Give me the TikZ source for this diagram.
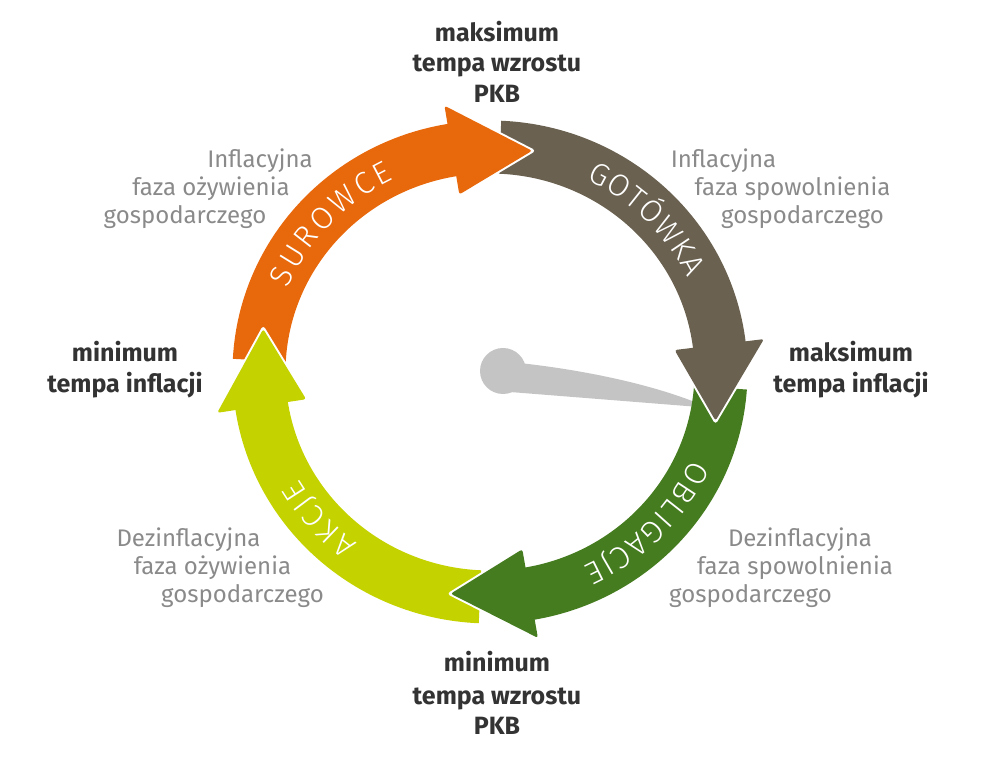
\documentclass[tikz,border=0pt]{standalone}
\usepackage{fontspec}
\setmainfont{Fira Sans}
\newfontfamily\lightfont{Fira Sans Light}
\usetikzlibrary{decorations.text}
\definecolor{cOrange}{RGB}{232,104,12}
\definecolor{cGray}{RGB}{106,97,80}
\definecolor{cGreen}{RGB}{70,124,32}
\definecolor{cLime}{RGB}{196,211,0}
\definecolor{cNeedle}{RGB}{196,196,196}
\definecolor{cDark}{RGB}{51,51,51}
\definecolor{cLabel}{RGB}{138,138,138}
\begin{document}
\begin{tikzpicture}[x=1pt,y=1pt,
  bold/.style={font=\fontsize{25}{30}\selectfont\bfseries, text=cDark, inner sep=0pt, anchor=base},
  phase/.style={font=\fontsize{24}{28}\selectfont, text=cLabel, inner sep=0pt, anchor=base},
  ringtext/.style={decorate, decoration={text along path, text align={fit to path}, text color=white, text={|\lightfont\fontsize{31}{31}\selectfont|#1}}}
]
\useasboundingbox (0,0) rectangle (983,763);
\begin{scope}[shift={(490,391)}]
  % needle
  \fill[cNeedle] (13,1) circle[radius=23];
  \fill[cNeedle] (20,10) .. controls (100,2) and (170,-15) .. (212,-33) -- (209,-35) -- (20,-20) -- cycle;
  % bodies (extended 1.5 degrees under their own heads)
  \foreach \s/\b/\c in {177/98/cOrange, 87.5/5.5/cGray, -4/-81.5/cGreen, 267.5/187.2/cLime}{
    \fill[\c] (\s:257.5 and 251.5) arc[start angle=\s, end angle=\b, x radius=257.5, y radius=251.5]
      -- (\b:204.5 and 198.5) arc[start angle=\b, end angle=\s, x radius=204.5, y radius=198.5] -- cycle;
  }
  % heads
  \foreach \b/\t/\c in {99.5/79.5/cOrange, 7/-12.5/cGray, -80/-99.8/cGreen, 188.7/169/cLime}{
    \draw[white, line width=4pt, line join=round] (\b:276 and 270) -- (\t:231 and 225) -- (\b:186 and 180);
    \fill[\c, rounded corners=2.5pt] (\b:276 and 270) -- (\t:231 and 225) -- (\b:186 and 180) -- cycle;
  }
  % ring texts
  \path[ringtext=SUROWCE] (157:220 and 214) arc[start angle=157, end angle=116, x radius=220, y radius=214];
  \path[ringtext=GOTÓWKA] (64:220 and 214) arc[start angle=64, end angle=26, x radius=220, y radius=214];
  \path[ringtext=OBLIGACJE] (-24:220 and 214) arc[start angle=-24, end angle=-65, x radius=220, y radius=214];
  \path[ringtext=AKCJE] (233:220 and 214) arc[start angle=233, end angle=210, x radius=220, y radius=214];
\end{scope}
% bold labels
\node[bold] (t1) at (497,721) {maksimum};
\node[bold] (t2) at (497,691) {tempa wzrostu};
\node[bold] (t3) at (497,660) {PKB};
\node[bold] (b1) at (497,91) {minimum};
\node[bold] (b2) at (497,58) {tempa wzrostu};
\node[bold] (b3) at (497,28) {PKB};
\node[bold] (l1) at (125,401) {minimum};
\node[bold] (l2) at (125,370) {tempa inflacji};
\node[bold] (r1) at (851,401) {maksimum};
\node[bold] (r2) at (851,370) {tempa inflacji};
% phase labels
\node[phase] (tl1) at (260,595) {Inflacyjna};
\node[phase] (tl2) at (211,567) {faza ożywienia};
\node[phase] (tl3) at (185,539) {gospodarczego};
\node[phase] (tr1) at (723.5,595) {Inflacyjna};
\node[phase] (tr2) at (792.5,567) {faza spowolnienia};
\node[phase] (tr3) at (802.5,539) {gospodarczego};
\node[phase] (bl1) at (188.5,216) {Dezinflacyjna};
\node[phase] (bl2) at (212.5,188) {faza ożywienia};
\node[phase] (bl3) at (242.5,160) {gospodarczego};
\node[phase] (br1) at (800,216) {Dezinflacyjna};
\node[phase] (br2) at (795,188) {faza spowolnienia};
\node[phase] (br3) at (750.5,160) {gospodarczego};
\end{tikzpicture}
\end{document}
